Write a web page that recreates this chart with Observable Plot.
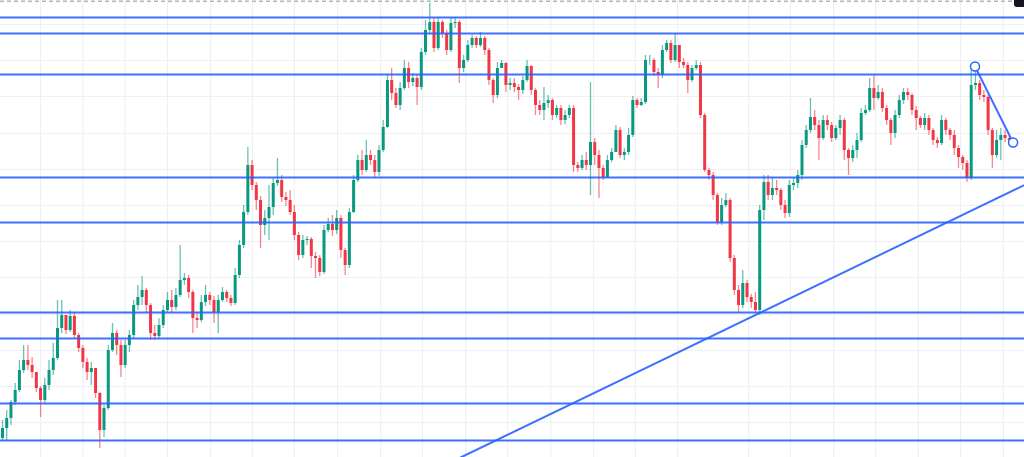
<!DOCTYPE html>
<html><head><meta charset="utf-8">
<script src="https://cdn.jsdelivr.net/npm/d3@7"></script>
<script src="https://cdn.jsdelivr.net/npm/@observablehq/plot@0.6"></script>
<style>
html,body{margin:0;padding:0;background:#fff;overflow:hidden}
#chart{position:relative;width:1024px;height:457px}
#chart svg{display:block}
#icon{position:absolute;left:1014px;top:-4px;width:12px;height:11px;background:#131722;border-radius:3px}
</style>
</head><body><div id="chart"><div id="icon"></div></div>
<script>
const firstOpen = 62;
const closes = [
72,82,98,110,130,140,135,128,112,100,
115,130,142,172,185,170,184,165,152,138,
128,132,107,70,92,150,167,155,135,155,
165,195,203,210,195,167,164,175,190,200,
193,205,220,222,208,182,180,198,205,200,
188,200,208,202,197,225,255,288,335,315,
300,275,282,293,317,320,303,300,288,265,
245,260,261,244,242,228,270,276,270,282,
250,235,288,320,340,330,345,340,328,350,
373,420,407,395,412,432,418,422,413,448,
470,478,452,478,467,450,477,478,432,440,
455,462,455,462,450,420,405,432,437,415,
417,413,410,420,434,410,395,390,397,400,
385,392,380,385,392,335,332,340,335,358,
345,332,323,340,348,370,345,348,365,400,
395,398,440,440,428,425,450,457,440,455,
438,435,420,432,435,385,330,325,305,278,
295,300,242,210,195,217,203,198,190,290,
318,305,312,310,295,287,315,317,325,355,
370,383,375,362,380,375,362,372,380,350,
342,350,360,387,390,412,402,408,392,380,
367,385,400,408,405,390,382,375,382,370,
360,357,380,370,365,352,343,337,322,415,
417,405,403,370,345,360,365,362,360];
const highs = [
80,90,100,117,140,155,155,143,128,114,
122,140,157,200,200,185,190,188,167,155,
142,138,132,108,95,155,177,170,160,160,
170,200,215,224,212,197,175,182,195,208,
210,212,255,227,225,210,188,205,215,208,
204,205,213,210,205,232,260,295,353,340,
318,304,290,315,322,342,325,308,310,295,
268,265,264,263,248,245,275,282,285,290,
285,252,292,325,345,350,360,350,345,355,
380,425,432,412,418,440,438,427,425,452,
480,497,482,483,480,470,482,483,480,445,
460,465,464,468,464,452,422,438,440,438,
422,422,416,424,440,435,412,400,413,405,
402,395,395,390,395,395,338,345,348,418,
362,350,335,345,352,375,373,352,372,404,
402,402,445,445,442,432,455,460,460,467,
455,442,438,435,440,438,387,332,328,307,
302,307,302,245,215,230,220,206,208,295,
325,325,322,320,312,300,320,322,330,360,
375,402,390,380,385,385,378,375,385,382,
352,355,367,392,395,422,425,415,412,395,
382,390,405,412,412,407,394,384,387,385,
372,363,385,382,372,370,355,345,340,430,
430,420,410,405,372,370,372,370,364];
const lows = [
60,59,75,95,108,127,130,122,108,83,
97,110,125,140,167,166,168,162,148,132,
120,115,102,52,63,90,148,145,123,132,
148,162,190,195,188,160,160,162,172,188,
187,190,203,215,202,167,172,178,194,195,
177,167,198,198,194,195,222,252,285,310,
290,252,265,260,285,314,298,294,285,260,
240,242,255,232,222,224,226,268,264,266,
242,225,232,287,318,325,328,335,322,324,
348,372,400,392,390,410,412,414,395,410,
445,467,448,450,462,445,448,472,417,428,
438,452,452,453,445,415,397,402,432,408,
410,408,400,406,418,405,385,385,380,392,
380,382,375,376,382,328,328,330,330,305,
335,302,320,322,338,348,342,340,345,363,
392,394,396,435,424,412,422,448,437,438,
432,432,407,418,430,382,328,320,300,275,
275,293,238,205,188,192,198,192,188,185,
280,300,300,305,290,282,283,310,312,320,
352,367,370,340,360,370,358,360,365,340,
325,338,342,358,385,388,390,400,388,375,
355,362,382,396,400,385,370,372,370,365,
355,352,355,365,360,345,332,330,318,320,
410,400,398,365,332,342,340,358,355];

const levels = [483,467,426,323,278,188,162,97,60];
const priceGrid = [476,440,404,367,331,295,259,223,186,150,114,78];
const timeGrid = [9,19,29,39,49.2,59.1,69,79.2,89.4,99.3,109.5,119.4,129.6,139.7,149.6,159.6,176.4,186.3,196.5,206.4,216.5,226.5,236.6];
const trendI = [108.3,241.6];
const trendP = [43,315.5];
const swingI = [229.9,238.9];
const swingP = [434,358];

const UP = "#089981", DOWN = "#F23645", BLUE = "#2962FF";
const candles = closes.map((c,k)=>({i:k, open: k===0?firstOpen:closes[k-1], close:c, high:highs[k], low:lows[k]}));
const col = d => d.close >= d.open ? UP : DOWN;
const trend = trendI.map((v,k)=>({i:v,p:trendP[k]}));
const swing = swingI.map((v,k)=>({i:v,p:swingP[k]}));

const chart = Plot.plot({
  width:1024, height:457, margin:0,
  x:{domain:[-0.473,241.6], axis:null},
  y:{domain:[43,500], axis:null},
  style:{background:"#fff"},
  marks:[
    Plot.ruleX(timeGrid,{stroke:"#eef0f4", strokeWidth:1.2}),
    Plot.ruleY(priceGrid,{stroke:"#eef0f4", strokeWidth:1.2}),
    Plot.ruleY([499.3],{stroke:"#b2b5be", strokeWidth:1.5, strokeDasharray:"4,3"}),
    Plot.ruleX(candles,{x:"i", y1:"low", y2:"high", stroke:col, strokeOpacity:0.6, strokeWidth:1.3}),
    Plot.ruleX(candles,{x:"i", y1:"open", y2:"close", stroke:col, strokeWidth:3}),
    Plot.ruleY(levels,{stroke:BLUE, strokeWidth:2, strokeOpacity:0.9}),
    Plot.line(trend,{x:"i", y:"p", stroke:BLUE, strokeWidth:2, strokeOpacity:0.9}),
    Plot.line(swing,{x:"i", y:"p", stroke:BLUE, strokeWidth:2, strokeOpacity:0.9}),
    Plot.dot(swing,{x:"i", y:"p", r:4.5, fill:"white", stroke:BLUE, strokeWidth:1.5})
  ]
});
document.getElementById("chart").prepend(chart);
</script>
</body></html>
